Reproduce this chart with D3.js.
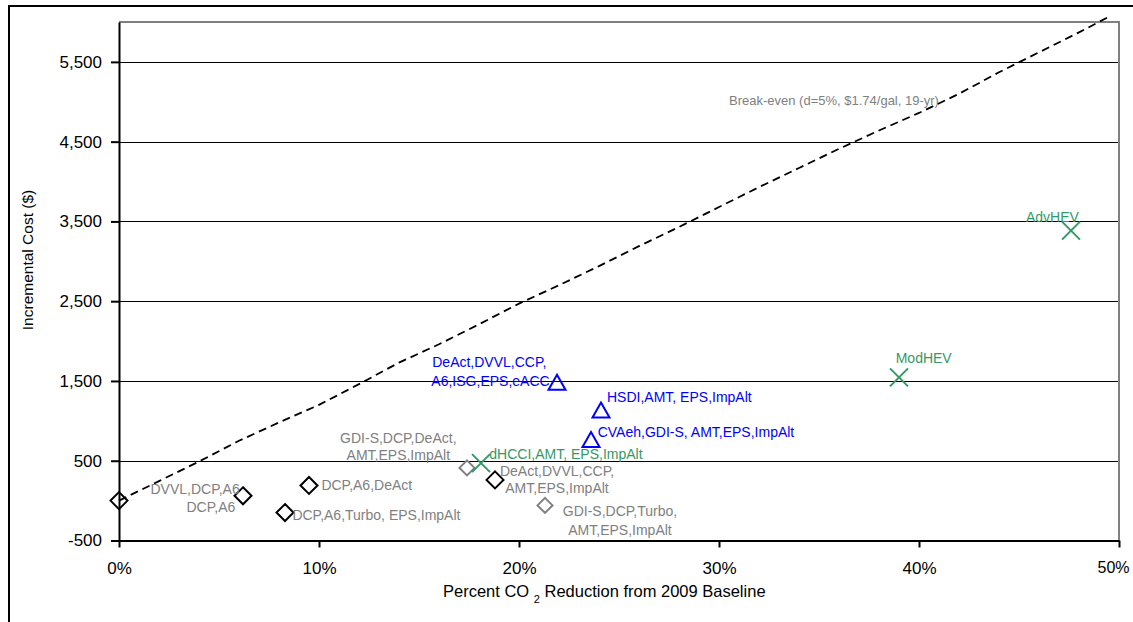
<!DOCTYPE html>
<html>
<head>
<meta charset="utf-8">
<script src="https://cdn.jsdelivr.net/npm/d3@7"></script>
<style>
  html, body { margin: 0; padding: 0; background: #fff; }
  svg { display: block; font-family: "Liberation Sans", Arial, sans-serif; }
</style>
</head>
<body>
<svg id="chart" width="1133" height="622"></svg>
<script>
// ---- data -------------------------------------------------------------
// Percent CO2 reduction (x, %) and incremental cost (y, $) per technology package

// Conventional packages (black diamonds)
const convX = [0, 6.2, 8.3, 9.5, 18.8];
const convY = [0, 60, -150, 190, 260];
const convLabels = [[], ["DVVL,DCP,A6", "DCP,A6"], ["DCP,A6,Turbo,  EPS,ImpAlt"], ["DCP,A6,DeAct"], ["DeAct,DVVL,CCP,", "AMT,EPS,ImpAlt"]];

// GDI-S packages (grey diamonds)
const gdiX = [17.4, 21.3];
const gdiY = [410, -60];
const gdiLabels = [["GDI-S,DCP,DeAct,", "AMT,EPS,ImpAlt"], ["GDI-S,DCP,Turbo,", "AMT,EPS,ImpAlt"]];

// Advanced packages (blue triangles)
const advX = [21.9, 24.1, 23.6];
const advY = [1485, 1135, 765];
const advLabels = [["DeAct,DVVL,CCP,", "A6,ISG,EPS,eACC"], ["HSDI,AMT, EPS,ImpAlt"], ["CVAeh,GDI-S, AMT,EPS,ImpAlt"]];

// Hybrid / HCCI packages (green crosses)
const hybX = [18.1, 39.0, 47.6];
const hybY = [470, 1545, 3385];
const hybLabels = [["dHCCI,AMT, EPS,ImpAlt"], ["ModHEV"], ["AdvHEV"]];

// Break-even curve
const breakEvenX = [0, 2, 4, 6, 8, 10, 12, 14, 16, 18, 20, 22, 24, 26, 28, 30, 32, 34, 36, 38, 40, 42, 44, 46, 48, 49.6];
const breakEvenY = [0, 245, 490, 750, 980, 1200, 1460, 1730, 1960, 2210, 2470, 2700, 2940, 3190, 3430, 3680, 3930, 4170, 4410, 4640, 4860, 5100, 5370, 5620, 5870, 6080];
const breakEvenLabel = "Break-even (d=5%, $1.74/gal, 19-yr)";

// Axes
const xTicks = [0, 10, 20, 30, 40, 50];
const yTicks = [-500, 500, 1500, 2500, 3500, 4500, 5500];
const xDomain = [0, 50];
const yDomain = [-500, 6000];
const xTitle = ["Percent CO", "2", " Reduction from 2009 Baseline"];
const yTitle = "Incremental Cost ($)";

// ---- layout -----------------------------------------------------------
const plot = { left: 119, right: 1119, top: 22, bottom: 540.5 };
const GREY = "#808080", BLUE = "#0000ff", GREEN = "#339966";

// label line placement relative to marker: [dx, dy, anchor]
const convLabelPos = [[], [[-92.5, -1.7, "start"], [-56.5, 16, "start"]], [[7.4, 7, "start"]], [[12.4, 4.3, "start"]], [[62, -4, "middle"], [62, 12.7, "middle"]]];
const gdiLabelPos = [[[-68.7, -25, "middle"], [-68.7, -8.4, "middle"]], [[75, 11, "middle"], [75, 29.3, "middle"]]];
const advLabelPos = [[[-67.7, -14.9, "middle"], [-66.5, 3.8, "middle"]], [[6, -8.3, "start"]], [[6.7, -2.4, "start"]]];
const hybLabelPos = [[[8.3, -4, "start"]], [[-3.3, -14, "start"]], [[-45, -9, "start"]]];

const svg = d3.select("#chart");

const x = d3.scaleLinear().domain(xDomain).range([plot.left, plot.right]);
const y = d3.scaleLinear().domain(yDomain).range([plot.bottom, plot.top]);

// outer chart frame
svg.append("rect")
  .attr("x", 9).attr("y", 6).attr("width", 1300).attr("height", 800)
  .attr("fill", "none").attr("stroke", "#000").attr("stroke-width", 2);

// horizontal gridlines
svg.append("g").selectAll("line")
  .data(yTicks.filter(d => d > yDomain[0]))
  .join("line")
  .attr("x1", plot.left).attr("x2", plot.right)
  .attr("y1", d => Math.round(y(d)) + 0.5).attr("y2", d => Math.round(y(d)) + 0.5)
  .attr("stroke", "#000").attr("stroke-width", 1);

// plot area border (top and right)
svg.append("path")
  .attr("d", `M${plot.left},${plot.top}H${plot.right}V${plot.bottom}`)
  .attr("fill", "none").attr("stroke", GREY).attr("stroke-width", 2);

// axes
const yAxis = d3.axisLeft(y).tickValues(yTicks).tickSize(8).tickSizeOuter(0).tickPadding(9)
  .tickFormat(d => d3.format(",")(d).replace("\u2212", "-"));
const xAxis = d3.axisBottom(x).tickValues(xTicks).tickSize(7).tickSizeOuter(0).tickPadding(14)
  .tickFormat(d => d + "%");

const gy = svg.append("g").attr("transform", `translate(${plot.left},0)`).call(yAxis);
const gx = svg.append("g").attr("transform", `translate(0,${plot.bottom})`).call(xAxis);
[gx, gy].forEach(g => {
  g.select(".domain").attr("stroke", "#000").attr("stroke-width", 2);
  g.selectAll(".tick line").attr("stroke", "#000").attr("stroke-width", 2);
  g.selectAll(".tick text").attr("fill", "#000").style("font-size", "17px")
    .style("font-family", "'Liberation Sans', Arial, sans-serif");
});
// the last x label sits against the chart edge, so it is nudged inward
gx.selectAll(".tick text")
  .filter(d => d === xDomain[1])
  .attr("x", -6)
  .style("font-size", "16px");

// axis titles
const xt = svg.append("text").attr("x", 443).attr("y", 597)
  .attr("fill", "#000").style("font-size", "16.5px");
xt.append("tspan").text(xTitle[0] + " ");
xt.append("tspan").attr("dy", 6).style("font-size", "11px").text(xTitle[1]);
xt.append("tspan").attr("dy", -6).text(xTitle[2]);

svg.append("text")
  .attr("transform", `translate(33,260) rotate(-90)`)
  .attr("text-anchor", "middle").attr("fill", "#000")
  .style("font-size", "15.5px").text(yTitle);

// break-even label and curve
svg.append("text").attr("x", 729).attr("y", 105)
  .attr("fill", GREY).style("font-size", "13px").text(breakEvenLabel);

const line = d3.line().x(d => x(d[0])).y(d => y(d[1])).curve(d3.curveLinear);
svg.append("path")
  .datum(d3.zip(breakEvenX, breakEvenY))
  .attr("d", line)
  .attr("fill", "none").attr("stroke", "#000").attr("stroke-width", 1.8)
  .attr("stroke-dasharray", "8,5");

// marker shapes
const diamond = r => `M0,${-r}L${r},0L0,${r}L${-r},0Z`;
const triangle = (w, h) => `M0,${-h}L${w},${h}L${-w},${h}Z`;
const cross = r => `M${-r},${-r}L${r},${r}M${-r},${r}L${r},${-r}`;

function drawSeries(xs, ys, labels, pos, shape, color, labelColor) {
  const pts = d3.zip(xs, ys, labels, pos);
  const g = svg.append("g");
  g.selectAll("path")
    .data(pts).join("path")
    .attr("transform", d => `translate(${x(d[0])},${y(d[1])})`)
    .attr("d", shape)
    .attr("fill", "none").attr("stroke", color).attr("stroke-width", 2)
    .attr("stroke-linejoin", "miter");
  pts.forEach(d => {
    d[2].forEach((txt, i) => {
      const p = d[3][i];
      g.append("text")
        .attr("x", x(d[0]) + p[0]).attr("y", y(d[1]) + p[1])
        .attr("text-anchor", p[2])
        .attr("fill", labelColor).style("font-size", "14px")
        .text(txt);
    });
  });
}

drawSeries(convX, convY, convLabels, convLabelPos, diamond(8.5), "#000", GREY);
drawSeries(gdiX, gdiY, gdiLabels, gdiLabelPos, diamond(7.5), GREY, GREY);
drawSeries(advX, advY, advLabels, advLabelPos, triangle(8.5, 7.5), BLUE, BLUE);
drawSeries(hybX, hybY, hybLabels, hybLabelPos, cross(9), GREEN, GREEN);
</script>
</body>
</html>
